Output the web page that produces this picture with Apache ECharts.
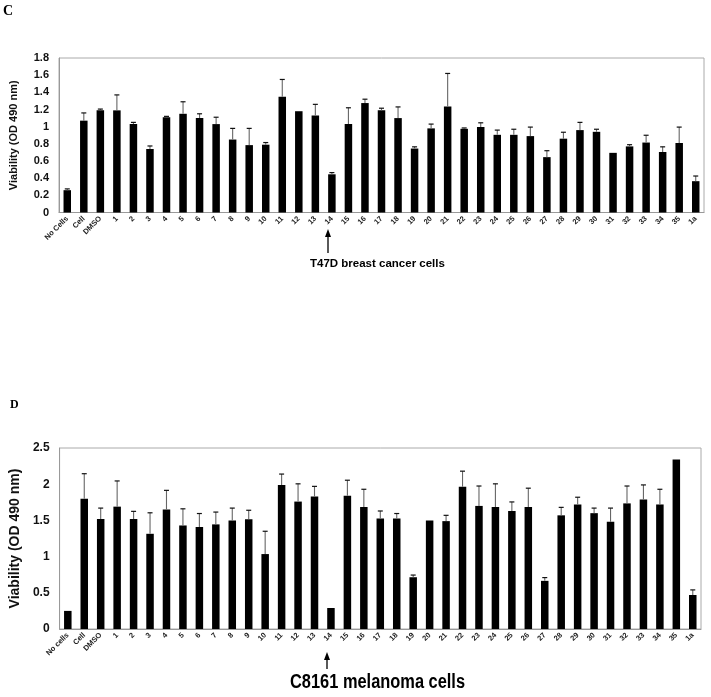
<!DOCTYPE html>
<html>
<head>
<meta charset="utf-8">
<script src="https://cdn.jsdelivr.net/npm/echarts@6/dist/echarts.min.js"></script>
<style>html,body{margin:0;padding:0;background:#fff;}#main{width:711px;height:697px;}</style>
</head>
<body>
<div id="main"></div>
<script>
// ---------- DATA ----------
const compoundLabels = ['1','2','3','4','5','6','7','8','9','10','11','12','13','14','15','16','17','18','19','20','21','22','23','24','25','26','27','28','29','30','31','32','33','34','35','1a'];
const categoriesC = ['No Cells', 'Cell', 'DMSO'].concat(compoundLabels);
const categoriesD = ['No cells', 'Cell', 'DMSO'].concat(compoundLabels);

// Panel C: T47D breast cancer cells
const valuesC = [0.26, 1.07, 1.19, 1.19, 1.03, 0.74, 1.11, 1.15, 1.10, 1.03, 0.85, 0.785, 0.79, 1.35, 1.18, 1.13, 0.445, 1.03, 1.275,
                 1.19, 1.10, 0.745, 0.98, 1.235, 0.975, 0.995, 0.905, 0.905, 0.89, 0.645, 0.86, 0.96, 0.94, 0.695, 0.77, 0.815, 0.705, 0.81, 0.365];
const errorsC = [0.015, 0.09, 0.015, 0.18, 0.02, 0.035, 0.01, 0.14, 0.05, 0.08, 0.13, 0.195, 0.025, 0.20, 0.0, 0.13, 0.02, 0.19, 0.045,
                 0.025, 0.13, 0.02, 0.05, 0.385, 0.01, 0.05, 0.055, 0.065, 0.105, 0.075, 0.075, 0.09, 0.03, 0.0, 0.02, 0.085, 0.06, 0.185, 0.06];

// Panel D: C8161 melanoma cells
const valuesD = [0.25, 1.80, 1.52, 1.69, 1.52, 1.315, 1.65, 1.43, 1.41, 1.445, 1.50, 1.515, 1.035, 1.99, 1.76, 1.83, 0.29, 1.84, 1.685,
                 1.525, 1.525, 0.715, 1.50, 1.49, 1.965, 1.70, 1.685, 1.63, 1.685, 0.665, 1.57, 1.72, 1.60, 1.48, 1.735, 1.79, 1.72, 2.34, 0.47];
const errorsD = [0.0, 0.345, 0.15, 0.355, 0.105, 0.29, 0.265, 0.23, 0.185, 0.17, 0.17, 0.125, 0.315, 0.15, 0.245, 0.14, 0.0, 0.215, 0.245,
                 0.105, 0.07, 0.03, 0.0, 0.08, 0.215, 0.275, 0.32, 0.125, 0.26, 0.045, 0.11, 0.10, 0.07, 0.19, 0.24, 0.20, 0.21, 0.0, 0.07];

const yTicksC = {min: 0, max: 1.8, interval: 0.2};
const yTicksD = {min: 0, max: 2.5, interval: 0.5};

// ---------- CHART ----------
const chart = echarts.init(document.getElementById('main'), null, {renderer: 'canvas'});
const FONT = 'Liberation Sans, Arial, sans-serif';

function errRender(params, api) {
  const x = api.value(0), v = api.value(1), sd = api.value(2);
  if (!sd) return null;
  const base = api.coord([x, v]);
  const top = api.coord([x, v + sd]);
  return {
    type: 'group',
    children: [
      {type: 'line', shape: {x1: base[0], y1: base[1], x2: top[0], y2: top[1]}, style: {stroke: '#666', lineWidth: 1.1}},
      {type: 'line', shape: {x1: top[0] - 2.5, y1: top[1], x2: top[0] + 2.5, y2: top[1]}, style: {stroke: '#111', lineWidth: 1.2}}
    ]
  };
}

const xAxisCommon = {
  type: 'category',
  axisLine: {lineStyle: {color: '#999', width: 1}},
  axisTick: {show: false},
  axisLabel: {interval: 0, rotate: 45, fontSize: 7.5, fontWeight: 'bold', color: '#222', fontFamily: FONT, margin: 5}
};
const yAxisCommon = {
  type: 'value',
  nameLocation: 'middle',
  axisLine: {show: true, lineStyle: {color: '#999', width: 1}},
  axisTick: {show: false},
  splitLine: {show: false}
};

const option = {
  backgroundColor: '#fff',
  animation: false,
  grid: [
    {left: 58, top: 58, right: 7, height: 154.5, show: true, borderColor: '#aaa', borderWidth: 1, containLabel: false},
    {left: 55, top: 448, right: 10, height: 181, show: true, borderColor: '#aaa', borderWidth: 1, containLabel: false}
  ],
  xAxis: [
    Object.assign({}, xAxisCommon, {gridIndex: 0, data: categoriesC}),
    Object.assign({}, xAxisCommon, {gridIndex: 1, data: categoriesD})
  ],
  yAxis: [
    Object.assign({}, yAxisCommon, {
      gridIndex: 0, min: yTicksC.min, max: yTicksC.max, interval: yTicksC.interval,
      name: 'Viability (OD 490 nm)', nameGap: 40,
      nameTextStyle: {fontSize: 11, fontWeight: 'bold', color: '#111', fontFamily: FONT},
      axisLabel: {fontSize: 11, fontWeight: 'bold', color: '#111', fontFamily: FONT, margin: 10}
    }),
    Object.assign({}, yAxisCommon, {
      gridIndex: 1, min: yTicksD.min, max: yTicksD.max, interval: yTicksD.interval,
      name: 'Viability (OD 490 nm)', nameGap: 35,
      nameTextStyle: {fontSize: 14, fontWeight: 'bold', color: '#111', fontFamily: FONT},
      axisLabel: {fontSize: 12, fontWeight: 'bold', color: '#111', fontFamily: FONT, margin: 10}
    })
  ],
  series: [
    {type: 'bar', xAxisIndex: 0, yAxisIndex: 0, data: valuesC, barWidth: 7.5, itemStyle: {color: '#000'}},
    {type: 'custom', xAxisIndex: 0, yAxisIndex: 0, renderItem: errRender,
     data: valuesC.map((v, i) => [i, v, errorsC[i]]), z: 3},
    {type: 'bar', xAxisIndex: 1, yAxisIndex: 1, data: valuesD, barWidth: 7.5, itemStyle: {color: '#000'}},
    {type: 'custom', xAxisIndex: 1, yAxisIndex: 1, renderItem: errRender,
     data: valuesD.map((v, i) => [i, v, errorsD[i]]), z: 3}
  ],
  graphic: [
    {type: 'text', left: 3, top: 4, style: {text: 'C', font: 'bold 14px "Liberation Serif", "Times New Roman", serif', fill: '#000'}},
    {type: 'text', left: 10, top: 399, style: {text: 'D', font: 'bold 12px "Liberation Serif", "Times New Roman", serif', fill: '#000'}},
    // arrow C
    {type: 'line', shape: {x1: 328, y1: 253, x2: 328, y2: 234}, style: {stroke: '#000', lineWidth: 1.3}},
    {type: 'polygon', shape: {points: [[328, 229], [325, 237], [331, 237]]}, style: {fill: '#000'}},
    {type: 'text', x: 310, y: 258, style: {x: 0, y: 0, text: 'T47D breast cancer cells', font: 'bold 11.5px "Liberation Sans", Arial, sans-serif', fill: '#000'}},
    // arrow D
    {type: 'line', shape: {x1: 327, y1: 669, x2: 327, y2: 657}, style: {stroke: '#000', lineWidth: 1.3}},
    {type: 'polygon', shape: {points: [[327, 652], [324, 660], [330, 660]]}, style: {fill: '#000'}},
    {type: 'text', x: 290, y: 672, scaleX: 0.82, style: {x: 0, y: 0, text: 'C8161 melanoma cells', font: 'bold 20px "Liberation Sans", Arial, sans-serif', fill: '#000'}}
  ]
};
chart.setOption(option);
</script>
</body>
</html>
